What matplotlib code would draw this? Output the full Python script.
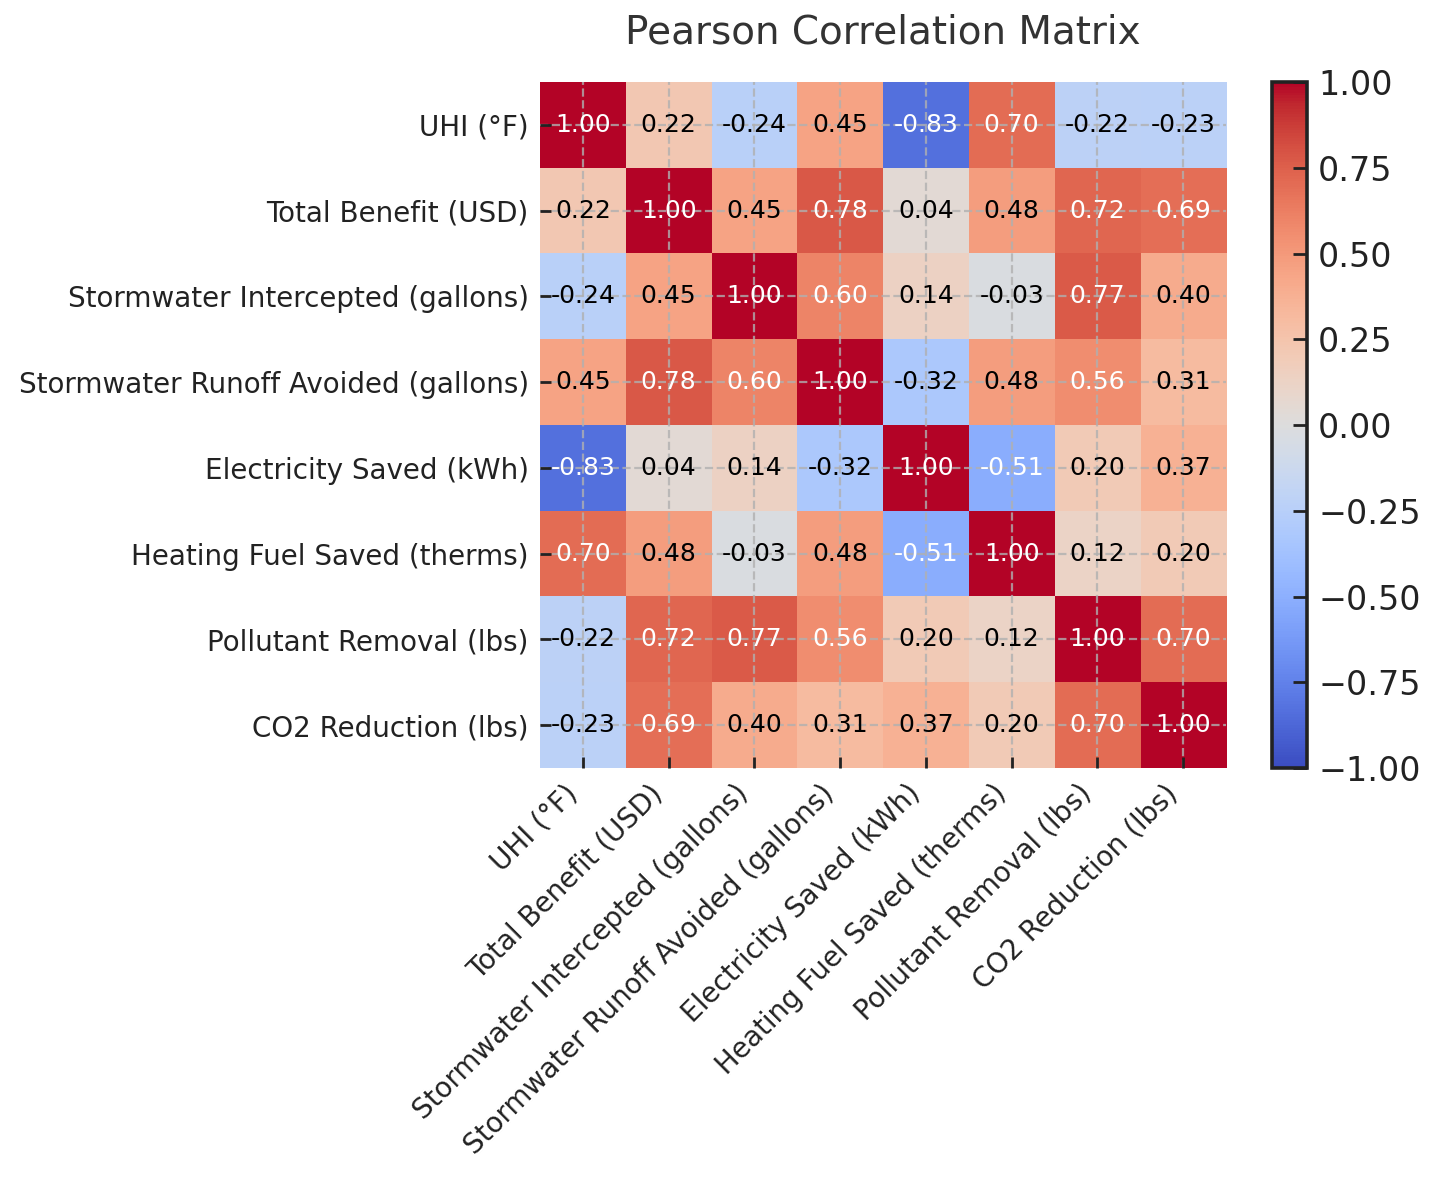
import matplotlib
matplotlib.use("Agg")
import matplotlib.pyplot as plt
import numpy as np

labels = [
    "UHI (°F)",
    "Total Benefit (USD)",
    "Stormwater Intercepted (gallons)",
    "Stormwater Runoff Avoided (gallons)",
    "Electricity Saved (kWh)",
    "Heating Fuel Saved (therms)",
    "Pollutant Removal (lbs)",
    "CO2 Reduction (lbs)",
]

row_uhi = [1.00, 0.22, -0.24, 0.45, -0.83, 0.70, -0.22, -0.23]
row_benefit = [0.22, 1.00, 0.45, 0.78, 0.04, 0.48, 0.72, 0.69]
row_intercepted = [-0.24, 0.45, 1.00, 0.60, 0.14, -0.03, 0.77, 0.40]
row_runoff = [0.45, 0.78, 0.60, 1.00, -0.32, 0.48, 0.56, 0.31]
row_electricity = [-0.83, 0.04, 0.14, -0.32, 1.00, -0.51, 0.20, 0.37]
row_heating = [0.70, 0.48, -0.03, 0.48, -0.51, 1.00, 0.12, 0.20]
row_pollutant = [-0.22, 0.72, 0.77, 0.56, 0.20, 0.12, 1.00, 0.70]
row_co2 = [-0.23, 0.69, 0.40, 0.31, 0.37, 0.20, 0.70, 1.00]

cbar_ticks = [-1, -0.75, -0.5, -0.25, 0, 0.25, 0.5, 0.75, 1]

corr = np.array([row_uhi, row_benefit, row_intercepted, row_runoff,
                 row_electricity, row_heating, row_pollutant, row_co2])

fig = plt.figure(figsize=(7.19, 5.895), dpi=200)
ax = fig.add_axes([0.3755, 0.3486, 0.4771, 0.5818])
cax = fig.add_axes([0.8846, 0.3486, 0.0243, 0.5818])

im = ax.imshow(corr, cmap="coolwarm", vmin=-1, vmax=1, aspect="auto")

n = len(labels)
ax.set_xticks(np.arange(n))
ax.set_yticks(np.arange(n))
ax.set_xticklabels(labels, rotation=45, ha="right")
ax.set_yticklabels(labels)
ax.tick_params(direction="in", length=4, width=1, colors="#222222",
               labelsize=10, pad=4)
for s in ax.spines.values():
    s.set_visible(False)
ax.grid(True, linestyle="--", color="#b0b0b0", linewidth=0.8, alpha=0.8)

# valores en cada celda
for i in range(n):
    for j in range(n):
        v = corr[i, j]
        ax.text(j, i, f"{v:.2f}", ha="center", va="center", fontsize=9,
                color="white" if abs(v) > 0.5 else "black")

ax.set_title("Pearson Correlation Matrix", fontsize=14, color="#333333", pad=14)

cb = fig.colorbar(im, cax=cax)
cb.set_ticks(cbar_ticks)
cb.ax.set_yticklabels([f"{t:.2f}".replace("-", "\u2212") for t in cbar_ticks])
cb.ax.tick_params(direction="in", length=5, width=1, labelsize=12,
                  colors="#222222", pad=4)
cb.outline.set_edgecolor("#222222")
cb.outline.set_linewidth(1.3)

fig.savefig("out.png", dpi=200)
